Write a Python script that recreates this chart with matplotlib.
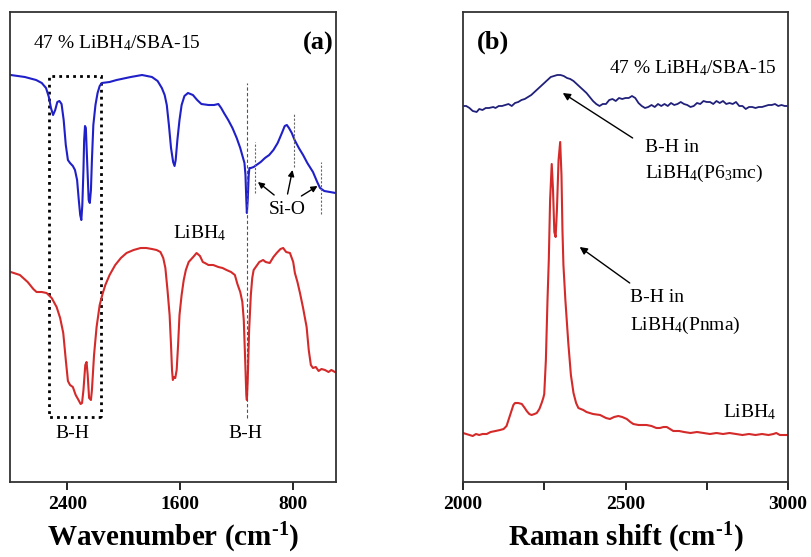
import matplotlib
matplotlib.use('Agg')
import matplotlib.pyplot as plt
from matplotlib.patches import Rectangle

plt.rcParams['font.family'] = ['Liberation Serif', 'DejaVu Serif']
plt.rcParams['mathtext.fontset'] = 'custom'
plt.rcParams['mathtext.rm'] = 'Liberation Serif'
plt.rcParams['mathtext.it'] = 'Liberation Serif:italic'
plt.rcParams['mathtext.bf'] = 'Liberation Serif:bold'

# ---- FTIR, 47 % LiBH4/SBA-15 (blue) ----
ir_sba_wn = [2800, 2700, 2620, 2580, 2550, 2530, 2515, 2500, 2485, 2470, 2455, 2440,
             2425, 2410, 2395, 2380, 2360, 2345, 2330, 2318, 2308, 2300, 2293, 2285,
             2280, 2274, 2268, 2262, 2255, 2248, 2240, 2232, 2225, 2215, 2200, 2185,
             2170, 2155, 2100, 2050, 1950, 1870, 1800, 1760, 1730, 1710, 1695, 1680,
             1665, 1650, 1640, 1632, 1620, 1605, 1590, 1570, 1545, 1510, 1480, 1450,
             1400, 1360, 1330, 1310, 1290, 1260, 1230, 1200, 1175, 1155, 1145, 1138,
             1132, 1128, 1122, 1115, 1110, 1100, 1080, 1060, 1030, 1000, 970, 940,
             910, 880, 860, 845, 830, 810, 790, 760, 730, 700, 660, 630, 610, 580,
             540, 500]
ir_sba_y = [407, 405, 402, 399, 394, 385, 374, 367, 372, 380, 381, 378,
            362, 337, 322, 319, 316, 312, 302, 282, 267, 262, 277, 312,
            342, 356, 354, 332, 307, 282, 279, 292, 322, 357, 377, 389,
            396, 399, 400, 402, 405, 407, 405, 401, 394, 387, 377, 357,
            334, 320, 316, 322, 342, 362, 377, 386, 389, 387, 382, 378,
            377, 377, 378, 374, 369, 362, 354, 344, 334, 324, 319, 307,
            282, 269, 282, 307, 314, 314, 315, 317, 320, 324, 327, 332,
            339, 349, 356, 357, 354, 349, 342, 334, 327, 319, 310, 300,
            294, 291, 290, 289]

# ---- FTIR, LiBH4 (red) ----
ir_libh4_wn = [2800, 2735, 2680, 2640, 2617, 2580, 2546, 2510, 2475, 2450, 2428, 2410,
               2395, 2380, 2360, 2340, 2320, 2305, 2295, 2285, 2272, 2263, 2255, 2245,
               2232, 2225, 2210, 2192, 2170, 2150, 2130, 2100, 2060, 2020, 1980, 1930,
               1880, 1840, 1800, 1767, 1740, 1720, 1705, 1690, 1675, 1665, 1658, 1652,
               1645, 1635, 1625, 1615, 1605, 1590, 1575, 1560, 1540, 1508, 1484, 1460,
               1440, 1425, 1400, 1366, 1330, 1300, 1272, 1240, 1213, 1195, 1175, 1160,
               1150, 1140, 1132, 1128, 1122, 1112, 1100, 1090, 1080, 1060, 1040, 1013,
               995, 966, 940, 917, 890, 871, 850, 823, 800, 788, 770, 752, 730, 705,
               690, 675, 660, 640, 620, 600, 575, 550, 530, 505]
ir_libh4_y = [210, 207, 200, 193, 190, 190, 189, 184, 175, 164, 149, 122,
              101, 97, 95, 87, 82, 78, 79, 92, 117, 120, 107, 84,
              82, 92, 127, 155, 177, 188, 197, 207, 217, 224, 229, 232,
              234, 234, 233, 232, 230, 224, 214, 192, 167, 137, 112, 102,
              105, 104, 112, 137, 167, 187, 202, 212, 220, 225, 229, 226,
              220, 219, 217, 217, 215, 214, 212, 210, 207, 198, 190, 180,
              162, 122, 87, 82, 102, 152, 187, 204, 212, 216, 220, 222,
              220, 219, 225, 229, 233, 234, 230, 229, 220, 209, 200, 189, 174, 155,
              132, 117, 114, 115, 111, 113, 112, 110, 112, 110]

# ---- Raman, 47 % LiBH4/SBA-15 (navy) ----
ram_sba_x = [2000, 2010, 2020, 2030, 2042, 2050, 2060, 2070, 2080, 2093, 2100, 2110,
             2120, 2130, 2140, 2150, 2160, 2170, 2180, 2190, 2200, 2210, 2220, 2230,
             2240, 2250, 2260, 2270, 2280, 2290, 2300, 2310, 2320, 2330, 2340, 2350,
             2360, 2370, 2380, 2390, 2400, 2410, 2420, 2430, 2440, 2450, 2460, 2470,
             2480, 2490, 2500, 2510, 2520, 2530, 2540, 2550, 2560, 2570, 2580, 2590,
             2600, 2610, 2620, 2630, 2640, 2650, 2660, 2670, 2680, 2690, 2700, 2710,
             2720, 2730, 2740, 2750, 2760, 2770, 2780, 2790, 2800, 2810, 2820, 2830,
             2840, 2850, 2860, 2870, 2880, 2890, 2900, 2910, 2920, 2930, 2940, 2950,
             2960, 2970, 2980, 2990, 3000]
ram_sba_y = [376, 376, 374, 371, 370, 373, 372, 374, 374, 375, 374, 376,
             376, 377, 378, 376, 379, 380, 382, 383, 385, 387, 390, 393,
             396, 399, 402, 405, 406, 407, 407, 406, 404, 403, 401, 398,
             395, 392, 389, 385, 381, 378, 376, 378, 378, 382, 383, 381,
             384, 383, 384, 384, 386, 384, 379, 376, 374, 375, 377, 375,
             378, 376, 378, 376, 379, 377, 378, 380, 378, 377, 375, 376,
             379, 378, 381, 380, 380, 378, 381, 379, 381, 378, 379, 378,
             380, 376, 376, 373, 375, 375, 374, 375, 375, 376, 377, 377,
             378, 376, 377, 376, 376]

# ---- Raman, LiBH4 (red) ----
ram_libh4_x = [2000, 2010, 2020, 2030, 2040, 2050, 2060, 2073, 2085, 2100, 2114, 2125,
               2134, 2142, 2150, 2155, 2160, 2170, 2181, 2190, 2196, 2204, 2211, 2220,
               2227, 2235, 2242, 2247, 2250, 2255, 2260, 2264, 2268, 2273, 2277, 2281,
               2285, 2289, 2294, 2299, 2303, 2306, 2309, 2315, 2324, 2332, 2340, 2348,
               2355, 2370, 2380, 2400, 2422, 2440, 2452, 2465, 2478, 2490, 2504, 2515,
               2524, 2540, 2555, 2565, 2580, 2595, 2606, 2617, 2627, 2637, 2647, 2665,
               2680, 2700, 2720, 2740, 2760, 2780, 2800, 2820, 2840, 2860, 2880, 2900,
               2920, 2940, 2955, 2964, 2975, 3000]
ram_libh4_y = [49, 48, 47, 46, 48, 47, 48, 48, 50, 51, 52, 53,
               56, 64, 72, 77, 79, 79, 78, 74, 71, 68, 67, 68,
               69, 73, 79, 84, 88, 122, 182, 222, 282, 318, 292, 250,
               245, 272, 322, 340, 307, 252, 217, 182, 139, 107, 89, 79,
               74, 72, 70, 68, 67, 64, 63, 65, 66, 65, 63, 60,
               58, 57, 57, 57, 56, 54, 54, 55, 55, 53, 51, 51,
               50, 49, 50, 49, 48, 49, 48, 49, 48, 47, 48, 47,
               48, 47, 48, 49, 47, 47]

blue_ir = '#2020c8'
navy = '#20207a'
red = '#d42a2a'
arrow_kw = dict(arrowstyle='-|>', color='black', lw=1, mutation_scale=9, shrinkA=0, shrinkB=0)

fig = plt.figure(figsize=(8.12, 5.57), dpi=100)
ax1 = fig.add_axes([10 / 812, 75 / 557, 326 / 812, 470 / 557])
ax2 = fig.add_axes([463 / 812, 75 / 557, 325 / 812, 470 / 557])

# ---------------- panel (a) ----------------
ax1.plot(ir_sba_wn, ir_sba_y, color=blue_ir, lw=1.5)
ax1.plot(ir_libh4_wn, ir_libh4_y, color=red, lw=1.5)
ax1.set_xlim(2805, 497)
ax1.set_ylim(0, 470)
ax1.set_xticks([2400, 1600, 800])
ax1.set_yticks([])

ax1.add_patch(Rectangle((2161, 65), 2527 - 2161, 406 - 65, fill=False,
                        ls=(0, (1, 1.5)), lw=2, ec='black'))
ax1.plot([1130, 1130], [64, 399], ls='--', color='#555555', lw=0.8, dashes=(3, 2))
for wn, y0, y1 in [(1072, 289, 340), (793, 315, 369), (606, 268, 320)]:
    ax1.plot([wn, wn], [y0, y1], ls='--', color='#666666', lw=0.8, dashes=(2, 1.5))
for (x0, y0), (x1, y1) in [((935, 287), (1050, 300)), ((840, 288), (805, 312)),
                           ((742, 286), (628, 296))]:
    ax1.annotate('', xy=(x1, y1), xytext=(x0, y0), arrowprops=arrow_kw)

ax1.text(2643, 439, '47 % LiBH$_4$/SBA-15', fontsize=14, ha='left', va='center')
ax1.text(625, 439, '(a)', fontsize=19, fontweight='bold', ha='center', va='center')
ax1.text(1460, 249, 'LiBH$_4$', fontsize=14, ha='center', va='center')
ax1.text(845, 272, 'Si-O', fontsize=14, ha='center', va='center')
ax1.text(2362, 49, 'B-H', fontsize=14, ha='center', va='center')
ax1.text(1135, 49, 'B-H', fontsize=14, ha='center', va='center')
ax1.set_xlabel('Wavenumber (cm$^{\\mathbf{\u2010}\\mathbf{1}}$)', fontsize=21,
               fontweight='bold', labelpad=6)

# ---------------- panel (b) ----------------
ax2.plot(ram_sba_x, ram_sba_y, color=navy, lw=1.3)
ax2.plot(ram_libh4_x, ram_libh4_y, color=red, lw=1.5)
ax2.set_xlim(2000, 3000)
ax2.set_ylim(0, 470)
ax2.set_xticks([2000, 2500, 3000])
ax2.set_xticks([2250, 2750], minor=True)
ax2.set_yticks([])

ax2.text(2091, 440, '(b)', fontsize=19, fontweight='bold', ha='center', va='center')
ax2.text(2965, 414, '47 % LiBH$_4$/SBA-15', fontsize=14, ha='right', va='center')
ax2.text(2559, 335, 'B-H in', fontsize=14, ha='left', va='center')
ax2.text(2559, 309, 'LiBH$_4$(P6$_3$mc)', fontsize=14, ha='left', va='center')
ax2.text(2513, 184, 'B-H in', fontsize=14, ha='left', va='center')
ax2.text(2513, 157, 'LiBH$_4$(Pnma)', fontsize=14, ha='left', va='center')
ax2.text(2965, 70, 'LiBH$_4$', fontsize=14, ha='right', va='center')
ax2.annotate('', xy=(2307, 389), xytext=(2522, 344), arrowprops=dict(arrow_kw, mutation_scale=11))
ax2.annotate('', xy=(2359, 235), xytext=(2513, 199), arrowprops=dict(arrow_kw, mutation_scale=11))
ax2.set_xlabel('Raman shift (cm$^{\\mathbf{\u2010}\\mathbf{1}}$)', fontsize=21,
               fontweight='bold', labelpad=6)

for ax in (ax1, ax2):
    for s in ax.spines.values():
        s.set_linewidth(1.3)
        s.set_color('#333333')
    ax.tick_params(axis='x', which='both', direction='out', length=6, width=1.2,
                   pad=4, labelsize=14)
    for lab in ax.get_xticklabels():
        lab.set_fontweight('bold')

fig.savefig('out.png', dpi=100)
